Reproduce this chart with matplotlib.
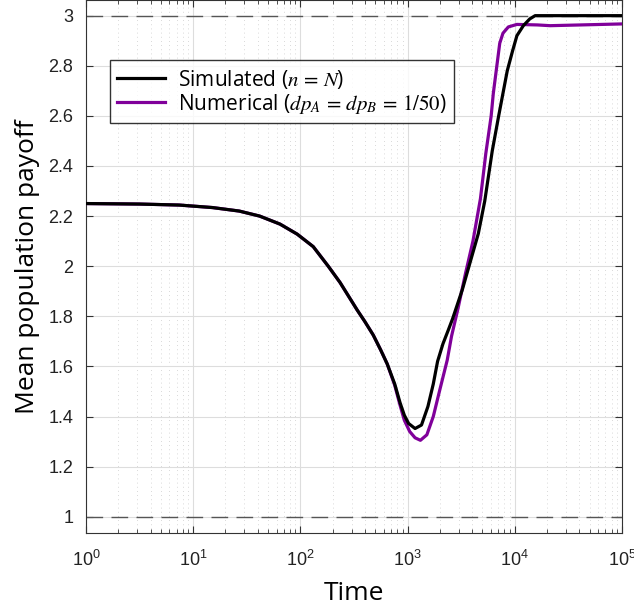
import numpy as np
import matplotlib
matplotlib.use("Agg")
import matplotlib.pyplot as plt

# data (time given as log10 exponent)
log_t_sim = [0.00, 0.50, 0.87, 1.18, 1.43, 1.62, 1.81, 1.97, 2.12, 2.26, 2.37, 2.45, 2.53,
             2.60, 2.68, 2.75, 2.81, 2.88, 2.93, 2.97, 3.01, 3.07, 3.13, 3.19, 3.24, 3.28,
             3.33, 3.38, 3.42, 3.51, 3.58, 3.66, 3.72, 3.79, 3.85, 3.89, 3.93, 3.98, 4.02,
             4.08, 4.14, 4.19, 5.00]
payoff_sim = [2.250, 2.248, 2.244, 2.234, 2.220, 2.200, 2.168, 2.128, 2.078, 2.000, 1.935,
              1.880, 1.825, 1.780, 1.725, 1.665, 1.610, 1.530, 1.455, 1.405, 1.372, 1.352,
              1.366, 1.440, 1.530, 1.620, 1.690, 1.745, 1.790, 1.905, 2.010, 2.130, 2.260,
              2.460, 2.600, 2.690, 2.780, 2.860, 2.920, 2.960, 2.987, 3.000, 3.000]

log_t_num = [0.00, 0.50, 0.87, 1.18, 1.43, 1.62, 1.81, 1.97, 2.12, 2.26, 2.37, 2.45, 2.53,
             2.60, 2.68, 2.75, 2.81, 2.88, 2.93, 2.97, 3.02, 3.07, 3.12, 3.18, 3.24, 3.30,
             3.37, 3.41, 3.47, 3.54, 3.61, 3.68, 3.73, 3.78, 3.80, 3.83, 3.86, 3.89, 3.94,
             4.02, 4.21, 4.33, 5.00]
payoff_num = [2.250, 2.248, 2.244, 2.234, 2.220, 2.200, 2.168, 2.128, 2.078, 2.000, 1.935,
              1.880, 1.825, 1.780, 1.725, 1.665, 1.610, 1.525, 1.445, 1.385, 1.340, 1.315,
              1.305, 1.327, 1.400, 1.505, 1.625, 1.720, 1.830, 1.970, 2.100, 2.270, 2.450,
              2.600, 2.690, 2.790, 2.890, 2.930, 2.955, 2.965, 2.963, 2.960, 2.967]

bounds = [1, 3]
purple = "#80009a"

plt.rcParams["mathtext.fontset"] = "stix"

fig = plt.figure(figsize=(6.34, 6.09), dpi=100)
ax = fig.add_axes([0.1356, 0.1248, 0.8454, 0.8752])

for b in bounds:
    ax.axhline(b, color="#555555", lw=1.0, dashes=(12, 6), zorder=1)

ax.plot(10 ** np.array(log_t_num), payoff_num, color=purple, lw=2.3, zorder=3,
        label=r"Numerical ($dp_A\,=\,dp_B\,=\,1/50$)")
ax.plot(10 ** np.array(log_t_sim), payoff_sim, color="black", lw=2.3, zorder=4,
        label=r"Simulated ($n\,=\,N$)")

ax.set_xscale("log")
ax.set_xlim(1, 1e5)
ax.set_ylim(0.935, 3.0625)
ax.set_yticks(np.arange(1, 3.01, 0.2))
ax.set_yticklabels(["1", "1.2", "1.4", "1.6", "1.8", "2", "2.2", "2.4", "2.6", "2.8", "3"])

ax.grid(True, which="major", color="#dddddd", lw=0.8)
ax.grid(True, which="minor", color="#cccccc", lw=0.6, linestyle=(0, (1, 4)))
ax.set_axisbelow(True)
ax.tick_params(which="both", direction="in", top=True, right=True, colors="#333333",
               labelcolor="#222222")
ax.tick_params(which="major", labelsize=13, length=5, pad=9)
ax.tick_params(axis="x", which="major", pad=12)
ax.tick_params(which="minor", length=3)
for s in ax.spines.values():
    s.set_color("#333333")
    s.set_linewidth(0.8)
for lbl in ax.get_xticklabels() + ax.get_yticklabels():
    lbl.set_family("Liberation Sans")

ax.set_xlabel("Time", fontsize=19, family="Open Sans", labelpad=8)
ax.set_ylabel("Mean population payoff", fontsize=19, family="Open Sans", labelpad=6)

h, l = ax.get_legend_handles_labels()
leg = ax.legend(h[::-1], l[::-1], loc="upper left", bbox_to_anchor=(0.045, 0.887),
                prop={"family": "Open Sans", "size": 15}, frameon=True, fancybox=False,
                edgecolor="black", handlelength=2.3, handletextpad=0.6, borderpad=0.35,
                labelspacing=0.05, borderaxespad=0)
leg.get_frame().set_linewidth(1.0)

fig.savefig("out.png", dpi=100)
